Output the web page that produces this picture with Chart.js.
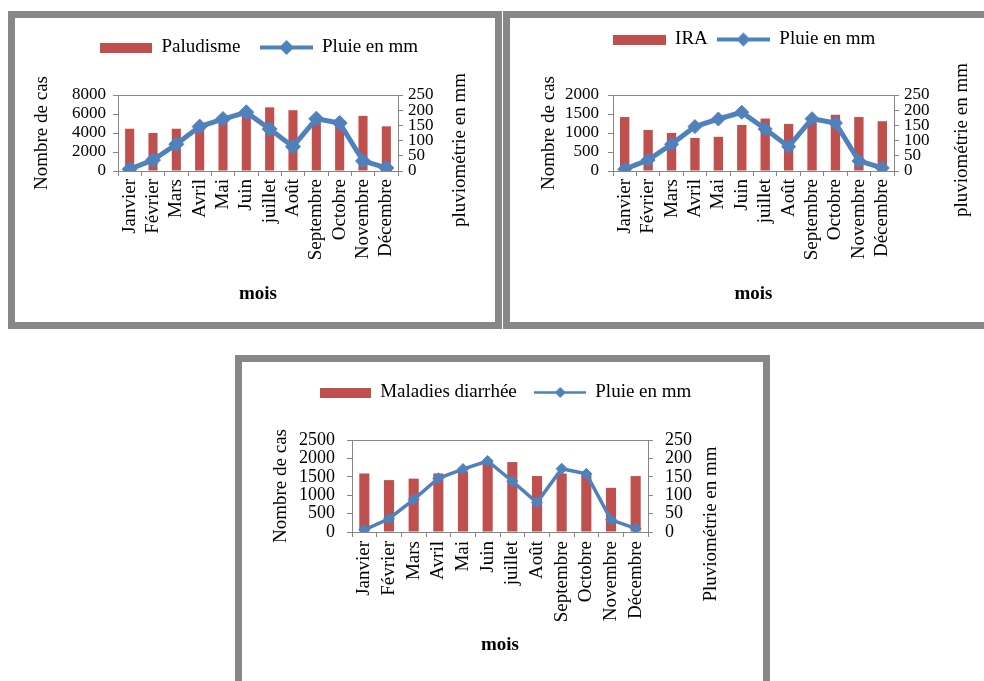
<!DOCTYPE html>
<html>
<head>
<meta charset="utf-8">
<script src="https://cdn.jsdelivr.net/npm/chart.js@4.4.0/dist/chart.umd.min.js"></script>
<style>
  body { margin: 0; background: #fff; width: 984px; height: 681px; overflow: hidden; position: relative; }
  .cadre { position: absolute; border: 7px solid #878787; box-sizing: border-box; background: #fff; overflow: hidden; }
  .cadre canvas { position: absolute; left: 0; top: 0; }
</style>
</head>
<body>
<div class="cadre" style="left:8px;top:11px;width:494px;height:318px"><canvas id="paludisme" width="480" height="304"></canvas></div>
<div class="cadre" style="left:503px;top:11px;width:494px;height:318px"><canvas id="ira" width="480" height="304"></canvas></div>
<div class="cadre" style="left:235px;top:355px;width:535px;height:340px"><canvas id="diarrhee" width="521" height="326"></canvas></div>
<script>
// données
var mois = ['Janvier', 'Février', 'Mars', 'Avril', 'Mai', 'Juin', 'juillet', 'Août', 'Septembre', 'Octobre', 'Novembre', 'Décembre'];
var pluie = [6, 36, 88, 146, 171, 193, 138, 80, 172, 158, 33, 10];
var casPaludisme = [4450, 4000, 4450, 4600, 5500, 6200, 6700, 6400, 5400, 5000, 5800, 4700];
var casIra = [1420, 1080, 1000, 870, 900, 1210, 1380, 1240, 1350, 1480, 1420, 1310];
var casDiarrhee = [1590, 1410, 1450, 1590, 1650, 1950, 1900, 1520, 1590, 1580, 1200, 1520];

var rouge = '#C0504D';
var bleu = '#4F81BD';
var gris = '#868686';
var police = "'Liberation Serif', 'Times New Roman', serif";

function iconeBarre( w, h ) {
	var c = document.createElement( 'canvas' );
	c.width = w;
	c.height = h;
	var g = c.getContext( '2d' );
	g.fillStyle = rouge;
	g.fillRect( 0, 0, w, h );
	return c;
}

function iconeLigne( w, lw, r ) {
	var c = document.createElement( 'canvas' );
	c.width = w;
	c.height = 2 * r + 2;
	var g = c.getContext( '2d' );
	var m = c.height / 2;
	g.strokeStyle = bleu;
	g.lineWidth = lw;
	g.beginPath();
	g.moveTo( 0, m );
	g.lineTo( w, m );
	g.stroke();
	g.fillStyle = bleu;
	g.beginPath();
	g.moveTo( w / 2 - r, m );
	g.lineTo( w / 2, m - r );
	g.lineTo( w / 2 + r, m );
	g.lineTo( w / 2, m + r );
	g.closePath();
	g.fill();
	return c;
}

// trait du haut de la zone de tracé
var bordureHaut = {
	id: 'bordureHaut',
	afterDraw: function ( chart ) {
		var a = chart.chartArea, ctx = chart.ctx;
		ctx.save();
		ctx.strokeStyle = gris;
		ctx.lineWidth = 1;
		ctx.beginPath();
		ctx.moveTo( a.left, a.top + 0.5 );
		ctx.lineTo( a.right, a.top + 0.5 );
		ctx.stroke();
		ctx.restore();
	}
};

// hauteur fixe pour la légende, et petit décalage horizontal
function reglageLegende( h, dx ) {
	return {
		id: 'reglageLegende',
		beforeInit: function ( chart ) {
			var legend = chart.legend;
			var fit = legend.fit.bind( legend );
			var draw = legend.draw.bind( legend );
			legend.fit = function () {
				fit();
				legend.height = h;
			};
			legend.draw = function () {
				chart.ctx.save();
				chart.ctx.translate( dx, 0 );
				draw();
				chart.ctx.restore();
			};
		}
	};
}

// titre de l'axe de droite, lu de bas en haut comme dans l'original
function titreDroit( texte, x, y ) {
	return {
		id: 'titreDroit',
		afterDraw: function ( chart ) {
			var ctx = chart.ctx;
			ctx.save();
			ctx.translate( x, y );
			ctx.rotate( -Math.PI / 2 );
			ctx.font = '19px ' + police;
			ctx.fillStyle = '#000';
			ctx.textAlign = 'center';
			ctx.textBaseline = 'middle';
			ctx.fillText( texte, 0, 0 );
			ctx.restore();
		}
	};
}

function makeChart( id, nomCas, cas, o ) {
	var iconeB = iconeBarre( o.barreW, 10 );
	var iconeL = iconeLigne( o.ligneW, o.epaisseur - 1, o.rayon );

	new Chart( document.getElementById( id ), {
		type: 'bar',
		data: {
			labels: mois,
			datasets: [ {
				label: nomCas,
				data: cas,
				yAxisID: 'yCas',
				backgroundColor: rouge,
				barPercentage: o.barPct,
				categoryPercentage: 1,
				order: 1
			}, {
				type: 'line',
				label: 'Pluie en mm',
				data: pluie,
				yAxisID: 'yPluie',
				borderColor: bleu,
				backgroundColor: bleu,
				borderWidth: o.epaisseur,
				pointStyle: 'rectRot',
				pointRadius: o.rayon,
				pointBorderWidth: 1,
				tension: 0,
				order: 0
			} ]
		},
		options: {
			responsive: false,
			animation: false,
			events: [],
			layout: { padding: { top: o.padHaut, left: 0, right: 0, bottom: 0 } },
			plugins: {
				tooltip: { enabled: false },
				legend: {
					position: 'top',
					labels: {
						usePointStyle: true,
						pointStyleWidth: o.barreW,
						padding: o.legendePad,
						color: '#000',
						font: { family: police, size: 19 },
						sort: function ( a, b ) { return a.datasetIndex - b.datasetIndex; },
						generateLabels: function ( chart ) {
							return Chart.defaults.plugins.legend.labels.generateLabels( chart ).map( function ( it ) {
								it.pointStyle = it.datasetIndex === 0 ? iconeB : iconeL;
								return it;
							} );
						}
					}
				}
			},
			scales: {
				x: {
					offset: true,
					grid: { offset: true, drawOnChartArea: false, tickLength: 5, color: gris },
					border: { color: gris },
					ticks: { autoSkip: false, minRotation: 90, maxRotation: 90, padding: o.xPad, color: '#000', font: { family: police, size: 19 } },
					title: { display: true, text: 'mois', color: '#000', font: { family: police, size: 19, weight: 'bold' }, padding: { top: 0, bottom: o.moisPad } },
					afterFit: function ( s ) { s.height = o.xHaut; }
				},
				yCas: {
					position: 'left',
					min: 0,
					max: o.casMax,
					grid: { drawOnChartArea: false, tickLength: 5, color: gris },
					border: { color: gris },
					ticks: { stepSize: o.casPas, autoSkip: false, padding: o.gPad, color: '#000', font: { family: police, size: o.tickTaille }, callback: function ( v ) { return String( v ); } },
					title: { display: true, text: 'Nombre de cas', color: '#000', font: { family: police, size: 19 }, padding: { top: o.gTitre, bottom: 0 } },
					afterFit: function ( s ) { s.width = o.gLarg; }
				},
				yPluie: {
					position: 'right',
					min: 0,
					max: 250,
					grid: { drawOnChartArea: false, tickLength: 5, color: gris },
					border: { color: gris },
					ticks: { stepSize: 50, autoSkip: false, padding: o.dPad, color: '#000', font: { family: police, size: o.tickTaille }, callback: function ( v ) { return String( v ); } },
					afterFit: function ( s ) { s.width = o.dLarg; }
				}
			}
		},
		plugins: [ bordureHaut, reglageLegende( o.legendeH, o.legendeDx ), titreDroit( o.titreDroit, o.dTitreX, o.dTitreY ) ]
	} );
}

makeChart( 'paludisme', 'Paludisme', casPaludisme, {
	barreW: 52, ligneW: 53, epaisseur: 5, rayon: 7.5, barPct: 0.39,
	padHaut: 0, legendePad: 20, legendeH: 77, legendeDx: 4,
	xPad: 3, moisPad: 17, xHaut: 151,
	casMax: 8000, casPas: 2000, tickTaille: 17, gPad: 7, gTitre: 16, gLarg: 103,
	titreDroit: 'pluviométrie en mm', dTitreX: 445, dTitreY: 132, dPad: 5, dLarg: 97
} );

makeChart( 'ira', 'IRA', casIra, {
	barreW: 53, ligneW: 53, epaisseur: 5, rayon: 7, barPct: 0.4,
	padHaut: 3, legendePad: 9, legendeH: 74, legendeDx: -6,
	xPad: 3, moisPad: 17, xHaut: 151,
	casMax: 2000, casPas: 500, tickTaille: 17, gPad: 9, gTitre: 28, gLarg: 103,
	titreDroit: 'pluviométrie en mm', dTitreX: 452, dTitreY: 122, dPad: 5, dLarg: 96
} );

makeChart( 'diarrhee', 'Maladies diarrhée', casDiarrhee, {
	barreW: 51, ligneW: 52, epaisseur: 3.5, rayon: 5.5, barPct: 0.41,
	padHaut: 3, legendePad: 18, legendeH: 75, legendeDx: 3,
	xPad: 4, moisPad: 32, xHaut: 156,
	casMax: 2500, casPas: 500, tickTaille: 18, gPad: 12, gTitre: 28, gLarg: 110,
	titreDroit: 'Pluviométrie en mm', dTitreX: 469, dTitreY: 162, dPad: 12, dLarg: 115
} );
</script>
</body>
</html>
